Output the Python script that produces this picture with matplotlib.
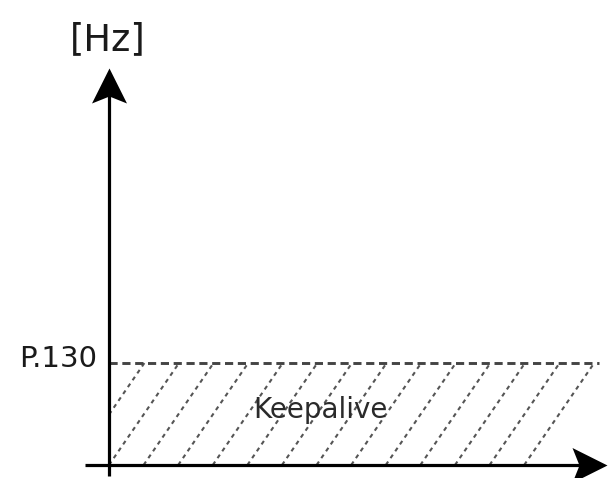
import matplotlib
matplotlib.use("Agg")
import matplotlib.pyplot as plt
from matplotlib.path import Path
import numpy as np

# ---- data ----
unit_label = "[Hz]"
threshold_label = "P.130"
threshold_value = 1.0          # level of P.130 (normalized)
region_label = "Keepalive"
x_extent = [0.0, 1.0]          # horizontal extent of keepalive region
y_axis_top = 3.89
x_axis_right = 1.016

# ---- figure ----
W, H = 608, 478
fig = plt.figure(figsize=(W / 100, H / 100), dpi=100)
ax = fig.add_axes([0, 0, 1, 1])
px_x = 490.0   # pixels per x unit
px_y = 102.0   # pixels per y unit
ox, oy = 109.0, 465.0
ax.set_xlim(-ox / px_x, (W - ox) / px_x)
ax.set_ylim(-(H - oy) / px_y, oy / px_y)
ax.axis("off")

# hatch: dashed diagonal lines clipped to region
spacing = 34.6 / px_x
run = 70.0 / px_x
xb = -spacing
while xb <= x_extent[1] - run + 1e-6:
    x0, y0 = xb, 0.0
    x1, y1 = xb + run, threshold_value
    if x0 < x_extent[0]:
        t = (x_extent[0] - x0) / run
        x0, y0 = x_extent[0], t * threshold_value
    ax.plot([x0, x1], [y0, y1], color="#555555", lw=1.5,
            linestyle=(0, (2.0, 2.0)), solid_capstyle="butt", zorder=2)
    xb += spacing

# threshold dashed line
ax.plot(x_extent, [threshold_value, threshold_value], color="#444444", lw=2.1,
        linestyle=(0, (2.8, 1.6)), zorder=3)

# axis lines
ax.plot([0, 0], [-0.108, y_axis_top - 20 / px_y], color="black", lw=2.3,
        solid_capstyle="butt", zorder=5)
ax.plot([-0.049, x_axis_right - 20 / px_x], [0, 0], color="black", lw=2.3,
        solid_capstyle="butt", zorder=5)

# notched arrowhead markers (tip at anchor)
def head(angle):
    v = np.array([[0, 0], [-17.5, -35], [0, -28], [17.5, -35], [0, 0]], float)
    a = np.deg2rad(angle)
    R = np.array([[np.cos(a), -np.sin(a)], [np.sin(a), np.cos(a)]])
    v = v @ R.T
    return Path(v, [Path.MOVETO, Path.LINETO, Path.LINETO, Path.LINETO,
                    Path.CLOSEPOLY])

ms = 2 * 35 / 1.389
ax.plot([0], [y_axis_top], marker=head(0), ms=ms, color="black",
        markeredgewidth=0, zorder=6)
ax.plot([x_axis_right], [0], marker=head(-90), ms=ms, color="black",
        markeredgewidth=0, zorder=6, clip_on=False)

# texts
ax.text(-0.002, (oy - 50) / px_y, unit_label, ha="center", va="baseline",
        fontsize=26.5, color="#1a1a1a", family="DejaVu Sans")
ax.text(-0.0245, (oy - 367) / px_y, threshold_label, ha="right", va="baseline",
        fontsize=21, color="#1a1a1a", family="DejaVu Sans")
ax.text((320 - ox) / px_x, (oy - 418) / px_y, region_label, ha="center",
        va="baseline", fontsize=20, color="#2a2a2a", family="DejaVu Sans",
        zorder=4)

fig.savefig("out.png", dpi=100)
